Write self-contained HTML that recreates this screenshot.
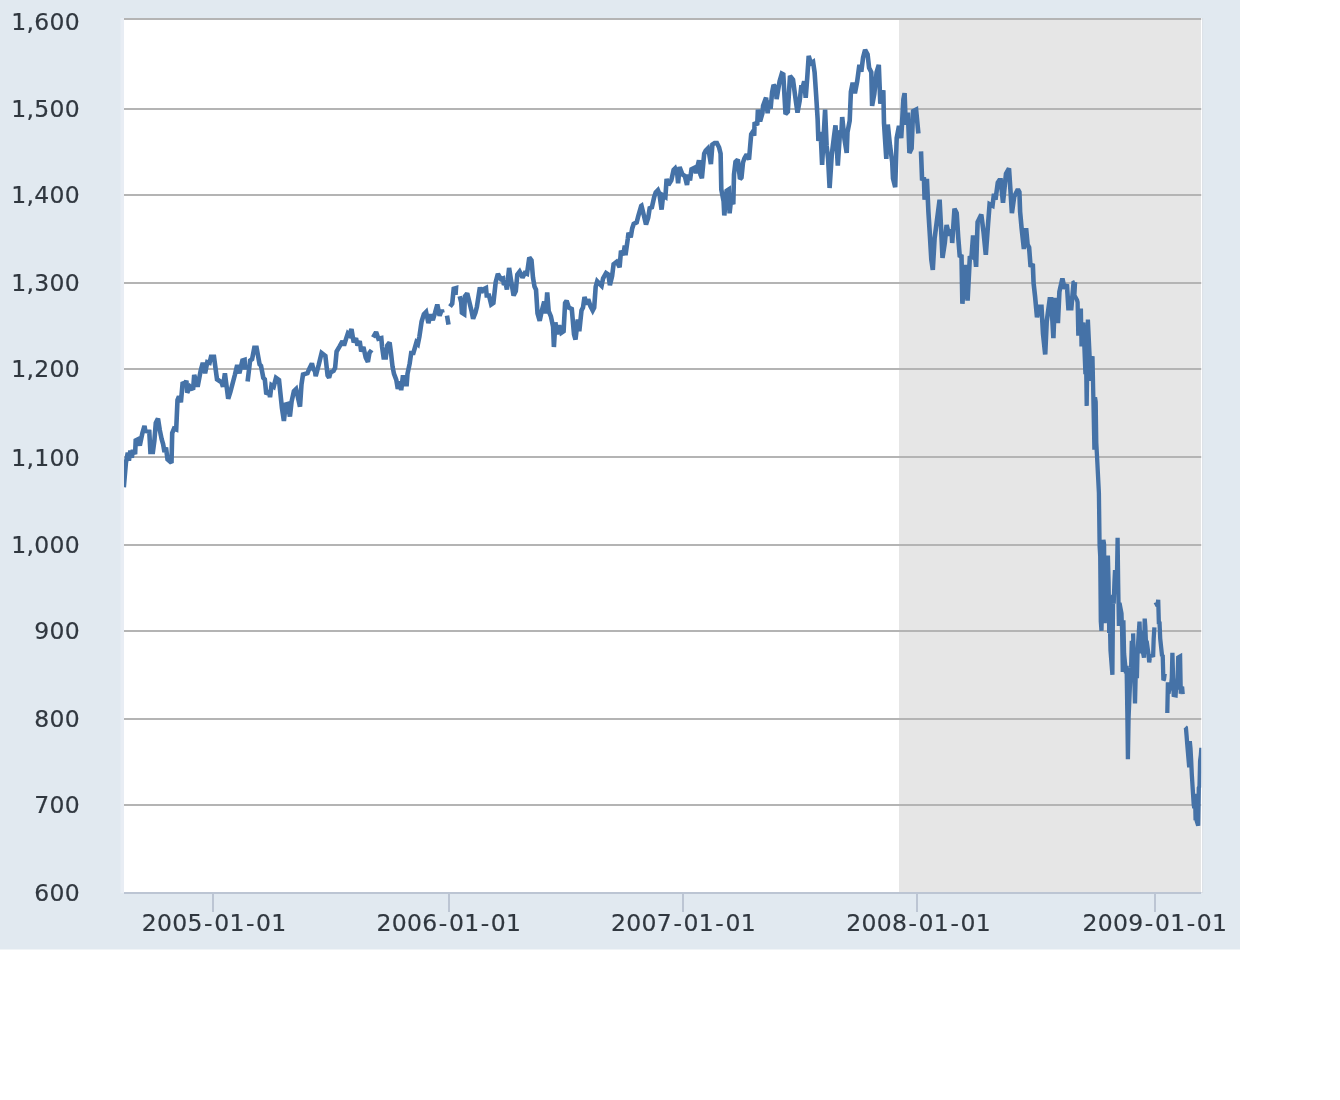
<!DOCTYPE html>
<html lang="en"><head><meta charset="utf-8"><title>S&amp;P 500</title>
<style>html,body{margin:0;padding:0;background:#fff}body{width:1340px;height:1100px;overflow:hidden}svg{display:block}text{font-family:"DejaVu Sans","Liberation Sans",sans-serif;font-size:23.5px;fill:#30373f;stroke:#30373f;stroke-width:0.2px}.yl{letter-spacing:0.3px}.xl{letter-spacing:0.3px}</style></head><body>
<svg width="1340" height="1100" viewBox="0 0 1340 1100">
<defs><filter id="soft" x="0" y="0" width="1340" height="1100" filterUnits="userSpaceOnUse"><feOffset dx="0" dy="0"/></filter><clipPath id="pc"><rect x="124" y="18" width="1077.3" height="874"/></clipPath></defs>
<rect x="-20" y="-20" width="1380" height="1140" fill="#ffffff"/>
<rect x="-20" y="-20" width="1260" height="969.5" fill="#e1e9f0"/>
<rect x="120.5" y="18" width="4" height="875" fill="#e8edf4"/>
<rect x="1201" y="18" width="2.1" height="875" fill="#dadfe6"/>
<rect x="124" y="18" width="1078.1" height="874" fill="#ffffff"/>
<rect x="899" y="18" width="302.0" height="874" fill="#e6e6e6"/>
<rect x="124" y="18" width="1077.2" height="2" fill="#b4b4b4"/>
<rect x="124" y="108" width="1077.2" height="2" fill="#b4b4b4"/>
<rect x="124" y="194" width="1077.2" height="2" fill="#b4b4b4"/>
<rect x="124" y="282" width="1077.2" height="2" fill="#b4b4b4"/>
<rect x="124" y="368" width="1077.2" height="2" fill="#b4b4b4"/>
<rect x="124" y="456" width="1077.2" height="2" fill="#b4b4b4"/>
<rect x="124" y="544" width="1077.2" height="2" fill="#b4b4b4"/>
<rect x="124" y="630" width="1077.2" height="2" fill="#b4b4b4"/>
<rect x="124" y="718" width="1077.2" height="2" fill="#b4b4b4"/>
<rect x="124" y="804" width="1077.2" height="2" fill="#b4b4b4"/>
<rect x="124" y="892" width="1077" height="2" fill="#bcc5d3"/>
<rect x="212" y="894" width="2" height="18" fill="#bcc5d3"/>
<rect x="448" y="894" width="2" height="18" fill="#bcc5d3"/>
<rect x="682" y="894" width="2" height="18" fill="#bcc5d3"/>
<rect x="916" y="894" width="2" height="18" fill="#bcc5d3"/>
<rect x="1154" y="894" width="2" height="18" fill="#bcc5d3"/>
<g><g fill="none" stroke="#4572a7" stroke-linejoin="miter" stroke-miterlimit="2.2" clip-path="url(#pc)">
<path d="M123.8 487.3 L125.9 462.9 L127.8 452.7 L128.9 460.7 L130.4 450.5 L131.8 457.8 L132.9 449.8 L135.1 454.2 L135.7 440.4 L138.0 439.3 L139.8 445.5 L142.4 433.1 L144.5 425.8 L145.3 430.9 L149.3 431.6 L150.4 452.0 L152.9 452.0 L154.4 440.4 L155.8 422.9 L158.0 418.5 L159.8 430.2 L161.6 438.9 L163.1 444.0 L164.5 452.0 L166.0 447.6 L167.5 459.3 L171.5 462.9 L172.2 433.1 L174.0 428.7 L176.2 429.5 L177.5 400.1 L179.0 396.4 L180.9 402.4 L182.7 382.2 L184.9 384.5 L186.4 380.7 L187.2 392.7 L190.1 386.7 L193.1 389.7 L194.2 374.8 L197.6 386.7 L200.6 371.0 L202.8 362.8 L205.1 373.3 L207.3 362.1 L209.6 362.8 L211.0 356.9 L214.0 356.9 L217.0 379.3 L221.5 382.2 L223.0 386.7 L224.9 373.3 L228.2 398.7 L230.4 391.9 L234.9 374.8 L237.2 365.1 L239.4 373.3 L242.4 360.6 L244.6 359.9 L245.1 369.6 M247.6 381.5 L250.1 360.6 L252.1 359.1 L254.3 347.9 L256.6 347.9 L259.6 364.3 L261.0 365.8 L263.3 377.8 L264.8 379.3 L266.3 394.2 L269.3 391.2 L270.0 397.2 L271.5 385.2 L273.7 386.7 L276.0 377.8 L279.0 380.0 L281.9 407.6 L283.9 421.0 L285.7 404.6 L287.9 403.9 L289.9 416.6 L291.6 401.6 L293.9 391.2 L296.1 389.0 L300.0 406.7 L301.5 384.3 L303.0 374.6 L307.5 373.1 L309.0 369.4 L311.9 363.4 L313.4 369.4 L314.9 370.9 L315.7 376.1 L318.7 364.9 L321.6 353.0 L325.4 356.0 L327.6 375.4 L329.1 377.6 L330.6 372.4 L333.6 370.9 L335.1 367.9 L336.6 351.5 L339.6 346.3 L342.5 341.0 L344.0 345.5 L346.3 338.1 L347.8 333.6 L349.3 335.1 L351.5 329.1 L353.7 342.5 L356.0 338.1 L357.5 345.5 L359.7 341.0 L361.2 351.5 L363.4 347.0 L365.7 357.5 L367.9 361.9 L369.4 353.0 L371.6 350.0 M373.1 337.3 L376.1 332.1 L378.4 338.8 L381.3 338.1 L382.1 347.0 L383.6 357.5 L385.8 357.5 L387.3 345.5 L389.6 342.5 L391.0 353.0 L392.5 366.4 L394.0 373.9 L396.3 379.9 L397.8 388.8 L400.0 381.3 L401.2 390.3 L403.0 375.4 L404.5 384.3 L406.7 384.3 L407.5 373.9 L409.7 363.4 L411.2 353.0 L413.4 353.0 L416.4 342.5 L417.9 344.0 L419.4 336.6 L421.6 321.6 L423.9 314.2 L426.1 311.9 L428.4 323.1 L430.6 314.2 L432.8 320.1 L435.1 312.7 L437.3 304.5 L439.6 315.7 L441.8 309.7 L442.5 312.7 M447.0 315.7 L448.5 324.6 M450.0 306.7 L452.2 303.7 L453.7 288.8 L456.0 288.1 L455.5 294.8 M459.7 296.3 L461.2 302.2 L461.9 312.7 L464.2 314.2 L464.9 296.3 L467.2 293.3 L468.7 299.3 L471.6 311.2 L473.1 318.7 L475.4 312.7 L476.9 306.7 L479.9 287.3 L481.3 292.5 L483.0 289.6 L486.0 288.1 L486.7 295.5 L489.0 295.5 L491.2 304.5 L493.4 303.0 L495.7 282.1 L497.9 273.9 L500.9 279.1 L503.1 278.4 L503.9 285.1 L505.4 282.1 L506.9 289.6 L509.1 267.9 L510.6 277.6 L513.6 295.5 L515.8 291.0 L517.3 274.6 L519.6 271.6 L522.5 277.6 L524.8 273.1 L527.0 273.9 L529.3 257.5 L531.5 260.4 L533.0 277.6 L534.5 286.6 L536.0 289.6 L537.5 313.4 L539.7 320.9 L541.9 310.4 L544.2 301.5 L545.7 313.4 L547.2 292.5 L548.7 311.2 L550.9 316.4 L553.1 326.9 L553.9 347.0 L555.4 322.4 L556.9 334.3 L559.1 325.4 L561.3 332.8 L563.6 331.3 L565.1 303.0 L566.6 300.7 L568.8 307.5 L571.8 309.0 L574.0 334.3 L575.5 339.6 L577.8 319.4 L579.3 331.3 L581.5 310.4 L583.0 307.5 L584.5 297.0 L586.7 304.5 L588.2 299.3 L590.4 306.0 L592.7 310.4 L594.2 307.5 L595.7 286.6 L597.2 281.3 L599.4 283.6 L601.6 285.8 L603.1 278.4 L606.1 273.1 L608.4 274.6 L609.9 285.1 L612.1 276.1 L613.6 264.2 L616.6 261.9 L618.1 264.2 L619.6 267.2 L621.0 250.7 L623.3 255.2 L624.8 245.5 L625.5 255.2 L627.8 238.8 L628.5 232.8 L630.7 237.3 L632.2 228.4 L633.7 223.9 L636.7 222.4 L638.2 216.4 L641.2 206.0 L641.5 205.8 L643.7 214.8 L646.0 224.5 L648.2 217.8 L649.7 208.1 L651.9 207.3 L654.2 196.9 L655.7 192.4 L657.9 190.1 L659.4 193.9 L661.6 209.6 L663.1 195.4 L665.4 196.9 L666.6 179.0 L668.4 184.9 L671.3 180.4 L673.6 170.0 L675.1 168.5 L677.3 174.5 L678.1 183.4 L679.6 167.0 L682.5 174.5 L684.8 176.0 L687.0 184.9 L688.5 174.5 L690.0 180.4 L691.5 169.3 L694.5 167.8 L696.0 173.0 L699.0 160.3 L700.4 174.5 L701.9 178.2 L704.2 153.6 L705.7 150.6 L707.9 148.4 L709.4 155.1 L710.9 164.0 L712.4 144.6 L714.6 143.1 L716.9 143.1 L719.1 147.6 L720.6 153.6 L721.3 189.4 L723.6 201.3 L724.3 215.5 L726.6 190.9 L728.8 189.4 L729.6 213.3 L731.0 199.9 L733.3 204.3 L734.0 174.5 L735.5 161.8 L737.8 159.6 L740.0 179.0 L741.5 177.5 L743.0 162.5 L744.5 158.1 L746.7 154.3 L749.0 159.6 L751.2 134.2 L752.7 131.9 L754.2 135.7 L754.6 122.2 L757.2 125.2 L757.9 109.6 L760.1 121.5 L762.4 113.3 L763.1 105.8 L766.1 97.6 L767.6 113.3 L769.1 100.6 L770.6 108.8 L772.1 92.4 L773.6 84.9 L775.8 87.9 L776.6 99.1 L779.6 81.2 L781.8 73.7 L783.3 74.5 L785.5 114.0 L787.8 111.8 L790.0 76.0 L793.0 79.8 L796.0 102.2 L797.5 112.6 L799.7 100.7 L801.2 87.2 L802.7 87.2 L804.2 81.3 L805.7 97.7 L807.2 78.3 L808.7 55.9 L810.9 63.4 L813.1 61.9 L814.6 72.3 L816.1 94.7 L817.6 118.6 L818.4 141.0 L820.6 132.0 L822.1 164.9 L825.1 109.6 L826.6 145.4 L828.1 158.9 L829.6 188.0 L831.8 154.4 L834.0 136.5 L835.5 125.3 L837.8 165.6 L840.0 132.0 L841.5 130.5 L842.2 117.1 L844.5 139.5 L846.7 152.9 L847.5 132.0 L849.7 120.8 L850.9 91.7 L852.7 82.8 L854.9 93.2 L857.2 81.3 L859.4 64.9 L861.3 71.6 L863.1 57.4 L865.1 49.9 L867.6 54.4 L869.1 67.8 L871.3 72.3 L872.1 105.9 L874.3 94.0 L876.6 72.3 L878.8 64.9 L880.3 103.7 L883.3 90.2 L884.0 123.1 L886.3 158.9 L887.8 124.6 L890.0 145.4 L892.2 161.9 L893.0 178.3 L895.2 187.2 L896.7 138.0 L899.0 126.0 L901.2 138.0 L903.4 99.2 L904.6 93.2 L905.7 124.6 L907.9 112.6 L909.4 152.9 L911.6 148.4 L913.1 111.1 L916.1 109.6 L918.4 133.5 M921.0 151.4 L922.1 180.3 L923.9 177.3 L924.6 199.7 L926.9 178.8 L928.4 211.6 L929.9 235.5 L931.3 259.4 L932.8 269.9 L934.6 238.5 L939.6 199.7 L941.0 226.6 L942.5 257.9 L944.8 243.0 L946.6 225.1 L949.3 235.5 L951.5 229.6 L952.2 243.0 L954.5 208.7 L956.7 213.1 L958.2 237.0 L959.7 255.7 L961.5 256.4 L962.4 303.7 L965.4 264.9 L967.6 300.7 L969.9 256.0 L971.3 259.4 L973.1 235.5 L976.1 266.9 L977.6 222.1 L981.3 214.6 L983.6 232.5 L985.8 254.9 L988.1 223.6 L989.6 204.2 L992.5 205.7 L994.0 193.7 L995.5 199.7 L997.8 182.5 L999.3 180.3 L1000.7 180.3 L1003.0 202.7 L1006.0 173.6 L1009.0 168.4 L1010.4 189.3 L1011.9 213.1 L1014.2 196.7 L1017.9 189.3 L1019.4 192.2 L1020.1 211.6 L1021.6 228.1 L1023.9 249.0 L1026.1 228.1 L1027.6 244.5 L1029.1 247.5 L1030.6 266.9 L1032.8 263.9 L1033.6 283.3 L1035.1 296.7 L1037.0 317.2 L1039.3 306.7 L1041.5 306.7 L1043.0 333.6 L1045.2 354.5 L1046.7 321.6 L1049.7 299.3 L1051.2 299.3 L1053.4 338.1 L1054.9 297.8 L1057.9 323.1 L1059.4 291.8 L1062.4 278.4 L1064.6 288.8 L1066.9 284.3 L1068.4 308.2 L1071.3 308.2 L1073.6 282.8 L1075.1 282.1" stroke-width="4.6"/>
<path d="M1075.1 282.1 L1074.4 295.4 L1077.0 300.0 L1077.6 302.2 L1078.3 335.6 L1078.9 330.8 L1080.9 308.5 L1081.5 346.4 L1082.1 339.8 L1082.8 324.9 L1083.4 322.6 L1085.4 374.2 L1086.0 355.9 L1086.7 405.9 L1087.3 362.1 L1087.9 319.6 L1089.9 361.6 L1090.5 378.1 L1091.2 380.2 L1091.8 359.8 L1092.5 356.2 L1094.4 449.7 L1095.0 397.2 L1095.7 401.9 L1096.3 442.8 L1097.0 455.9 L1098.9 492.9 L1099.6 546.0 L1100.2 555.9 L1100.8 621.5 L1101.5 630.8 L1103.4 539.8 L1104.1 544.4 L1104.7 623.3 L1105.4 589.5 L1106.0 594.7 L1107.9 555.5 L1108.6 582.0 L1109.2 633.0 L1109.9 623.1 L1110.5 650.5 L1112.4 674.8 L1113.1 594.7 L1113.7 603.8 L1114.4 582.8 L1115.0 570.0 L1117.0 572.2 L1117.6 537.7 L1118.2 584.0 L1118.9 625.9 L1119.5 603.0 L1121.5 613.4 L1122.1 631.1 L1122.8 671.9 L1123.4 620.3 L1124.1 653.5 L1126.0 673.2 L1126.6 665.9 L1127.3 711.8 L1127.9 759.2 L1128.6 717.6 L1130.5 672.3 L1131.1 667.4 L1131.8 640.9 M1133.1 633.4 L1135.0 703.4 L1135.7 674.9 L1136.3 655.7 L1136.9 678.1 L1137.6 651.1 L1139.5 621.7 L1140.2 640.1 L1140.8 630.8 L1141.5 653.2 L1142.1 647.9 L1144.0 657.6 L1144.7 618.6 L1145.3 626.3 L1146.0 643.0 L1146.6 640.7 L1148.6 655.0 L1149.2 662.4 L1149.8 658.0 M1151.1 653.9 L1153.1 656.9 L1153.7 638.3 L1154.4 627.3 M1155.6 602.3 L1157.6 606.1 L1158.2 599.8 L1158.9 624.3 L1159.5 621.6 L1160.2 638.6 L1162.1 656.2 L1162.7 654.8 L1163.4 680.3 L1164.0 679.3 L1164.7 673.8 M1167.3 713.0 L1167.9 682.4 L1168.5 693.6 L1169.2 689.7 L1171.1 685.6 L1171.8 677.6 L1172.4 652.8 L1173.1 678.1 L1173.7 695.0 L1175.6 695.4 L1176.3 683.9 L1176.9 689.4 L1177.6 677.5 L1178.2 657.6 L1180.1 656.5 L1180.8 693.8 L1181.4 688.1 L1182.1 686.8 L1182.7 694.1 M1185.3 727.1 L1185.9 727.7 L1186.6 736.0 L1187.2 743.8 L1189.2 767.2 L1189.8 741.1 L1190.5 748.3 L1191.1 758.9 L1191.8 774.4 L1193.7 804.3 L1194.3 808.3 L1195.0 793.8 L1195.6 820.3 L1196.3 819.6 L1198.2 825.6 L1198.8 787.9 L1199.5 786.4 L1200.1 760.7 L1200.8 755.6 L1201.4 747.8" stroke-width="4.3"/>
</g></g>
<g filter="url(#soft)">
<text class="yl" x="80" y="29.9" text-anchor="end">1,600</text>
<text class="yl" x="80" y="116.9" text-anchor="end">1,500</text>
<text class="yl" x="80" y="202.9" text-anchor="end">1,400</text>
<text class="yl" x="80" y="290.9" text-anchor="end">1,300</text>
<text class="yl" x="80" y="376.9" text-anchor="end">1,200</text>
<text class="yl" x="80" y="465.9" text-anchor="end">1,100</text>
<text class="yl" x="80" y="552.9" text-anchor="end">1,000</text>
<text class="yl" x="80" y="638.9" text-anchor="end">900</text>
<text class="yl" x="80" y="726.9" text-anchor="end">800</text>
<text class="yl" x="80" y="812.9" text-anchor="end">700</text>
<text class="yl" x="80" y="900.9" text-anchor="end">600</text>
<text class="xl" x="214.2" y="931.2" text-anchor="middle">2005<tspan dx="1.3">-</tspan><tspan dx="1.3">01</tspan><tspan dx="1.3">-</tspan><tspan dx="1.3">01</tspan></text>
<text class="xl" x="448.9" y="931.2" text-anchor="middle">2006<tspan dx="1.3">-</tspan><tspan dx="1.3">01</tspan><tspan dx="1.3">-</tspan><tspan dx="1.3">01</tspan></text>
<text class="xl" x="683.5" y="931.2" text-anchor="middle">2007<tspan dx="1.3">-</tspan><tspan dx="1.3">01</tspan><tspan dx="1.3">-</tspan><tspan dx="1.3">01</tspan></text>
<text class="xl" x="918.6" y="931.2" text-anchor="middle">2008<tspan dx="1.3">-</tspan><tspan dx="1.3">01</tspan><tspan dx="1.3">-</tspan><tspan dx="1.3">01</tspan></text>
<text class="xl" x="1154.9" y="931.2" text-anchor="middle">2009<tspan dx="1.3">-</tspan><tspan dx="1.3">01</tspan><tspan dx="1.3">-</tspan><tspan dx="1.3">01</tspan></text>
</g></svg></body></html>
